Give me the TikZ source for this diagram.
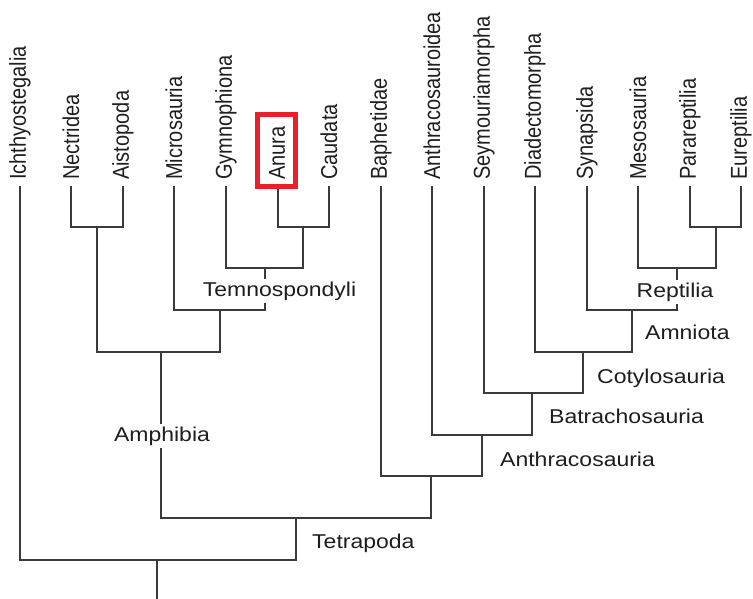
\documentclass[tikz,border=0pt]{standalone}
\usepackage{fontspec}
\setmainfont{Liberation Sans}
\definecolor{branchcol}{HTML}{3A3A3A}
\definecolor{txtcol}{HTML}{1E1E1E}
\definecolor{hlred}{HTML}{E8202A}
\tikzset{
  branch/.style={draw=branchcol, line width=1.6pt, line cap=rect},
  tiplabel/.style={rotate=90, anchor=west, inner sep=0pt, text=txtcol, font=\fontsize{20}{22}\selectfont},
  cladelabel/.style={fill=white, inner xsep=2pt, inner ysep=3pt, text=txtcol, font=\fontsize{20}{22}\selectfont},
  hlbox/.style={draw=hlred, line width=5pt}
}
\newcommand{\tipname}[1]{\scalebox{1}[1.15]{#1}}
\newcommand{\cladename}[1]{\scalebox{1.15}[1]{#1}}
\begin{document}
\begin{tikzpicture}[x=1pt,y=-1pt]
\useasboundingbox (0,0) rectangle (753,599);
% tip labels
\node[tiplabel] (L1) at (20,180) {\tipname{Ichthyostegalia}};
\node[tiplabel] (L2) at (71,180) {\tipname{Nectridea}};
\node[tiplabel] (L3) at (123,180) {\tipname{Aistopoda}};
\node[tiplabel] (L4) at (174,180) {\tipname{Microsauria}};
\node[tiplabel] (L5) at (226,180) {\tipname{Gymnophiona}};
\node[tiplabel] (L6) at (277,180) {\tipname{Anura}};
\node[tiplabel] (L7) at (329,180) {\tipname{Caudata}};
\node[tiplabel] (L8) at (381,180) {\tipname{Baphetidae}};
\node[tiplabel] (L9) at (432,180) {\tipname{Anthracosauroidea}};
\node[tiplabel] (L10) at (484,180) {\tipname{Seymouriamorpha}};
\node[tiplabel] (L11) at (535,180) {\tipname{Diadectomorpha}};
\node[tiplabel] (L12) at (587,180) {\tipname{Synapsida}};
\node[tiplabel] (L13) at (638,180) {\tipname{Mesosauria}};
\node[tiplabel] (L14) at (690,180) {\tipname{Parareptilia}};
\node[tiplabel] (L15) at (741,180) {\tipname{Eureptilia}};
% tip tops
\coordinate (ich) at (20,187);
\coordinate (nec) at (71,187);
\coordinate (ais) at (123,187);
\coordinate (mic) at (174,187);
\coordinate (gym) at (226,187);
\coordinate (anu) at (278,187);
\coordinate (cau) at (329,187);
\coordinate (bap) at (381,187);
\coordinate (ant) at (432,187);
\coordinate (sey) at (484,187);
\coordinate (dia) at (535,187);
\coordinate (syn) at (587,187);
\coordinate (mes) at (638,187);
\coordinate (par) at (690,187);
\coordinate (eur) at (741,187);
% internal nodes
\coordinate (a1) at (97,227);
\coordinate (a2) at (303,227);
\coordinate (a3) at (265,268);
\coordinate (a4) at (220,310);
\coordinate (a5) at (161,352);
\coordinate (r1) at (716,227);
\coordinate (r2) at (677,268);
\coordinate (r3) at (632,310);
\coordinate (r4) at (583,352);
\coordinate (r5) at (532,393);
\coordinate (r6) at (482,435);
\coordinate (r7) at (431,476);
\coordinate (t1) at (296,518);
\coordinate (t0) at (157,560);
\coordinate (root) at (157,599);
% branches
\draw[branch] (nec) |- (a1) -| (ais);
\draw[branch] (anu) |- (a2) -| (cau);
\draw[branch] (gym) |- (a3) -| (a2);
\draw[branch] (mic) |- (a4) -| (a3);
\draw[branch] (a1) |- (a5) -| (a4);
\draw[branch] (par) |- (r1) -| (eur);
\draw[branch] (mes) |- (r2) -| (r1);
\draw[branch] (syn) |- (r3) -| (r2);
\draw[branch] (dia) |- (r4) -| (r3);
\draw[branch] (sey) |- (r5) -| (r4);
\draw[branch] (ant) |- (r6) -| (r5);
\draw[branch] (bap) |- (r7) -| (r6);
\draw[branch] (a5) |- (t1) -| (r7);
\draw[branch] (ich) |- (t0) -| (t1);
\draw[branch] (t0) -- (root);
% clade labels
\node[cladelabel, anchor=base] (temno) at (279.5,296) {\cladename{Temnospondyli}};
\node[cladelabel, anchor=base] (rept) at (675,297) {\cladename{Reptilia}};
\node[cladelabel, anchor=base west] (amnio) at (643,339) {\cladename{Amniota}};
\node[cladelabel, anchor=base west] (cotylo) at (595,383) {\cladename{Cotylosauria}};
\node[cladelabel, anchor=base west] (batra) at (547,423) {\cladename{Batrachosauria}};
\node[cladelabel, anchor=base west] (anthra) at (498,466) {\cladename{Anthracosauria}};
\node[cladelabel, anchor=base] (amph) at (162,441) {\cladename{Amphibia}};
\node[cladelabel, anchor=base west] (tetra) at (310,548) {\cladename{Tetrapoda}};
% highlight box around Anura
\draw[hlbox] (257.5,115) rectangle (295.5,187);
\end{tikzpicture}
\end{document}
